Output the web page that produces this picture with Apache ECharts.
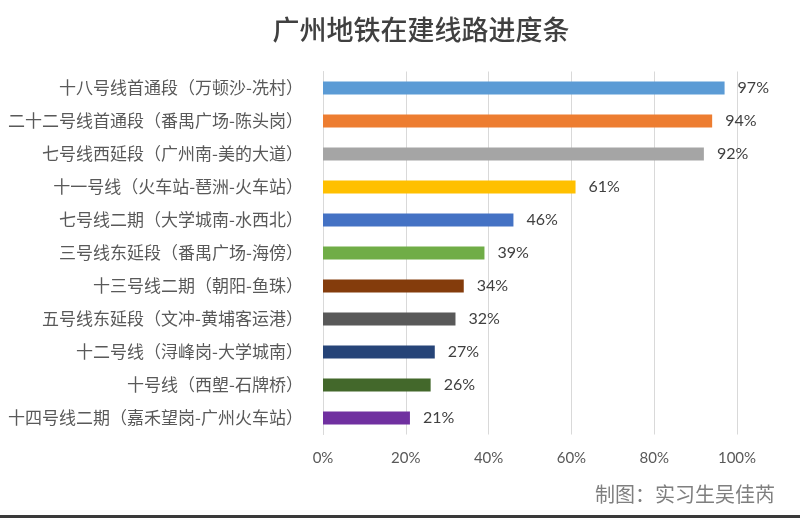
<!DOCTYPE html>
<html>
<head>
<meta charset="utf-8">
<script src="https://cdn.jsdelivr.net/npm/echarts@6/dist/echarts.min.js"></script>
<style>html,body{margin:0;padding:0;background:#fff;}#c{width:800px;height:518px;}</style>
</head>
<body>
<div id="c"></div>
<script>
var categories = [
  '十八号线首通段（万顿沙-冼村）',
  '二十二号线首通段（番禺广场-陈头岗）',
  '七号线西延段（广州南-美的大道）',
  '十一号线（火车站-琶洲-火车站）',
  '七号线二期（大学城南-水西北）',
  '三号线东延段（番禺广场-海傍）',
  '十三号线二期（朝阳-鱼珠）',
  '五号线东延段（文冲-黄埔客运港）',
  '十二号线（浔峰岗-大学城南）',
  '十号线（西塱-石牌桥）',
  '十四号线二期（嘉禾望岗-广州火车站）'
];
var progress = [0.97, 0.94, 0.92, 0.61, 0.46, 0.39, 0.34, 0.32, 0.27, 0.26, 0.21];
var barColors = ['#5B9BD5', '#ED7D31', '#A5A5A5', '#FFC000', '#4472C4', '#70AD47', '#843C0C', '#595959', '#264478', '#43682B', '#7030A0'];
var xTicks = [0, 0.2, 0.4, 0.6, 0.8, 1.0];

var chart = echarts.init(document.getElementById('c'));
var cjk = '"Noto Sans CJK SC", sans-serif';
var lat = 'Lato, "Noto Sans CJK SC", sans-serif';
chart.setOption({
  backgroundColor: '#ffffff',
  animation: false,
  title: {
    text: '广州地铁在建线路进度条',
    left: 416, top: 11, textAlign: 'center',
    textStyle: { fontFamily: cjk, fontSize: 27, fontWeight: 500, color: '#404040' }
  },
  graphic: [
    { type: 'text', right: 25, top: 484, style: { text: '制图：实习生吴佳芮', font: '20px "Noto Sans CJK SC", serif', fill: '#7f7f7f' } },
    { type: 'rect', left: 0, top: 515, shape: { width: 800, height: 3 }, style: { fill: '#3a3a3a' } }
  ],
  grid: { left: 323, right: 63, top: 71.5, bottom: 83.5, containLabel: false },
  xAxis: {
    type: 'value', min: 0, max: 1, interval: 0.2,
    axisLine: { show: false }, axisTick: { show: false },
    splitLine: { lineStyle: { color: '#d9d9d9', width: 1 } },
    axisLabel: {
      margin: 16, fontFamily: lat, fontSize: 15, color: '#595959',
      formatter: function (v) { return Math.round(v * 100) + '%'; }
    }
  },
  yAxis: {
    type: 'category', data: categories, inverse: true,
    axisLine: { show: true, lineStyle: { color: '#d9d9d9' } },
    axisTick: { show: false },
    axisLabel: { margin: 20, fontFamily: cjk, fontSize: 17, color: '#595959' }
  },
  series: [{
    type: 'bar',
    barWidth: 13,
    data: progress.map(function (v, i) { return { value: v, itemStyle: { color: barColors[i] } }; }),
    label: {
      show: true, position: 'right', distance: 13,
      fontFamily: lat, fontSize: 16, color: '#404040',
      formatter: function (p) { return Math.round(p.value * 100) + '%'; }
    }
  }]
});
</script>
</body>
</html>
